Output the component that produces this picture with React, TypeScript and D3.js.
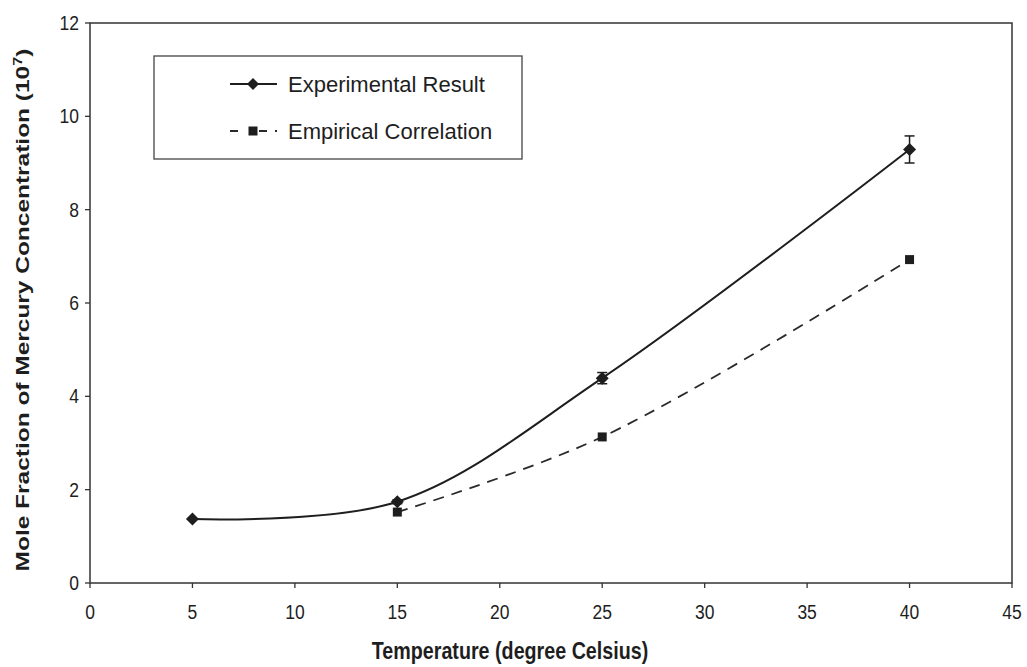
import React from "react";
import * as d3 from "d3";

// Mercury solubility vs temperature
const expTemps = [5, 15, 25, 40];
const expValues = [1.37, 1.74, 4.39, 9.29];
const expErrors = [0, 0.04, 0.12, 0.29];

const empTemps = [15, 25, 40];
const empValues = [1.52, 3.13, 6.93];

const xTicks = [0, 5, 10, 15, 20, 25, 30, 35, 40, 45];
const yTicks = [0, 2, 4, 6, 8, 10, 12];

const seriesNames = ["Experimental Result", "Empirical Correlation"];

const W = 1027;
const H = 667;
const margin = { left: 90, right: 15, top: 23, bottom: 84 };
const FONT = "'Liberation Sans', Arial, Helvetica, sans-serif";
const INK = "#1e1e1e";

export default function App() {
  const x = d3.scaleLinear().domain([0, 45]).range([margin.left, W - margin.right]);
  const y = d3.scaleLinear().domain([0, 12]).range([H - margin.bottom, margin.top]);

  const curve = d3.curveCatmullRom.alpha(0.5);
  const expLine = d3
    .line<number>()
    .x((_, i) => x(expTemps[i]))
    .y((d) => y(d))
    .curve(curve)(expValues) as string;
  const empLine = d3
    .line<number>()
    .x((_, i) => x(empTemps[i]))
    .y((d) => y(d))
    .curve(curve)(empValues) as string;

  const diamond = (cx: number, cy: number, r: number) =>
    `M${cx},${cy - r}L${cx + r},${cy}L${cx},${cy + r}L${cx - r},${cy}Z`;

  const x0 = x(0);
  const x1 = x(45);
  const y0 = y(0);
  const y1 = y(12);

  // legend box
  const lg = { x: 154, y: 56, w: 368, h: 103 };

  return (
    <svg width={W} height={H} style={{ position: "absolute", left: 0, top: 0, background: "#fff" }}>
      <rect x={0} y={0} width={W} height={H} fill="#fff" />
      {/* plot frame */}
      <rect x={x0} y={y1} width={x1 - x0} height={y0 - y1} fill="none" stroke="#333" strokeWidth={1.5} />
      {/* x ticks */}
      {xTicks.map((t) => (
        <g key={"x" + t}>
          <line x1={x(t)} x2={x(t)} y1={y0} y2={y0 + 5} stroke="#333" strokeWidth={1.3} />
          <text
            transform={`translate(${x(t)}, ${y0 + 36}) scale(1, 1.15)`}
            textAnchor="middle"
            fontFamily={FONT}
            fontSize={17.5}
            fill={INK}
          >
            {t}
          </text>
        </g>
      ))}
      {/* y ticks */}
      {yTicks.map((t) => (
        <g key={"y" + t}>
          <line x1={x0 - 5} x2={x0} y1={y(t)} y2={y(t)} stroke="#333" strokeWidth={1.3} />
          <text
            transform={`translate(${x0 - 11}, ${y(t) + 7}) scale(1, 1.15)`}
            textAnchor="end"
            fontFamily={FONT}
            fontSize={17.5}
            fill={INK}
          >
            {t}
          </text>
        </g>
      ))}
      {/* axis titles */}
      <text
        transform={`translate(510, 659) scale(1, 1.2)`}
        textAnchor="middle"
        fontFamily={FONT}
        fontSize={19.7}
        fontWeight="bold"
        fill={INK}
      >
        Temperature (degree Celsius)
      </text>
      <text
        transform={`translate(29, 310) rotate(-90) scale(1.36, 1)`}
        textAnchor="middle"
        fontFamily={FONT}
        fontSize={18}
        fontWeight="bold"
        fill={INK}
      >
        Mole Fraction of Mercury Concentration (10
        <tspan dy={-7} fontSize={12}>7</tspan>
        <tspan dy={7}>)</tspan>
      </text>

      {/* series lines */}
      <path d={expLine} fill="none" stroke={INK} strokeWidth={2} />
      <path d={empLine} fill="none" stroke="#2a2a2a" strokeWidth={1.8} strokeDasharray="11,8" />

      {/* error bars */}
      {expTemps.map((t, i) =>
        expErrors[i] > 0 ? (
          <g key={"e" + t} stroke={INK} strokeWidth={1.5}>
            <line x1={x(t)} x2={x(t)} y1={y(expValues[i] + expErrors[i])} y2={y(expValues[i] - expErrors[i])} />
            <line x1={x(t) - 5} x2={x(t) + 5} y1={y(expValues[i] + expErrors[i])} y2={y(expValues[i] + expErrors[i])} />
            <line x1={x(t) - 5} x2={x(t) + 5} y1={y(expValues[i] - expErrors[i])} y2={y(expValues[i] - expErrors[i])} />
          </g>
        ) : null
      )}

      {/* markers */}
      {empTemps.map((t, i) => (
        <rect key={"s" + t} x={x(t) - 4.5} y={y(empValues[i]) - 4.5} width={9} height={9} fill={INK} />
      ))}
      {expTemps.map((t, i) => (
        <path key={"d" + t} d={diamond(x(t), y(expValues[i]), 6.5)} fill={INK} />
      ))}

      {/* legend */}
      <rect x={lg.x} y={lg.y} width={lg.w} height={lg.h} fill="#fff" stroke="#444" strokeWidth={1.3} />
      <line x1={230} x2={277} y1={84} y2={84} stroke={INK} strokeWidth={2} />
      <path d={diamond(253, 84, 6)} fill={INK} />
      <text x={288} y={92} fontFamily={FONT} fontSize={22} fill={INK}>
        {seriesNames[0]}
      </text>
      <line x1={230} x2={277} y1={131} y2={131} stroke="#2a2a2a" strokeWidth={1.8} strokeDasharray="8,11,0,10,8" />
      <rect x={248.5} y={126.5} width={9} height={9} fill={INK} />
      <text x={288} y={139} fontFamily={FONT} fontSize={22} fill={INK}>
        {seriesNames[1]}
      </text>
    </svg>
  );
}
